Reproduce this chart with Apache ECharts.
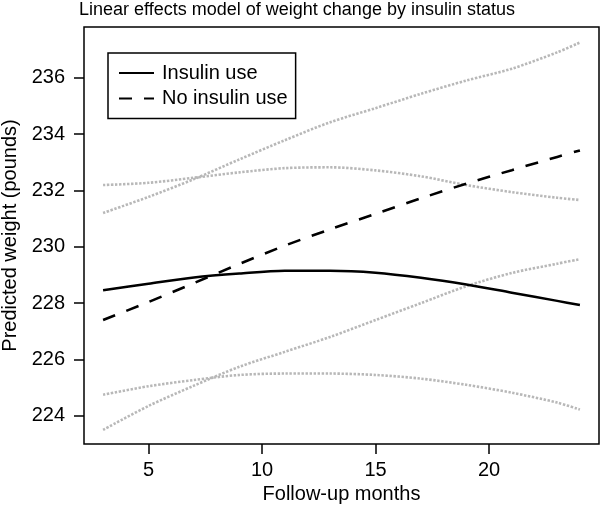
<!DOCTYPE html>
<html>
<head>
<meta charset="utf-8">
<title>Linear effects model of weight change by insulin status</title>
<script src="https://cdn.jsdelivr.net/npm/echarts@6/dist/echarts.min.js"></script>
<style>
  html, body { margin: 0; padding: 0; background: #fff; }
  #chart { width: 602px; height: 508px; }
</style>
</head>
<body>
<div id="chart"></div>
<script>
// values (months, predicted weight in pounds)
const months = [3, 5, 7, 9, 11, 13, 15, 17, 19, 21, 23, 24]
const insulinFit = [228.46, 228.69, 228.91, 229.05, 229.15, 229.15, 229.08, 228.9, 228.66, 228.37, 228.08, 227.93]
const insulinUpper = [232.19, 232.27, 232.45, 232.64, 232.79, 232.82, 232.71, 232.5, 232.19, 231.94, 231.74, 231.66]
const insulinLower = [224.75, 225.05, 225.27, 225.45, 225.5, 225.5, 225.45, 225.32, 225.1, 224.82, 224.47, 224.22]
const noInsulinFit = [227.4, 228.04, 228.71, 229.39, 230.04, 230.62, 231.17, 231.72, 232.24, 232.72, 233.19, 233.42]
const noInsulinUpper = [231.2, 231.77, 232.4, 233.1, 233.78, 234.42, 234.92, 235.43, 235.9, 236.32, 236.9, 237.25]
const noInsulinLower = [223.5, 224.35, 225.07, 225.74, 226.27, 226.8, 227.4, 228.0, 228.6, 229.07, 229.4, 229.56]

const xTicks = [5, 10, 15, 20]
const yTicks = [224, 226, 228, 230, 232, 234, 236]

const font = '"Liberation Sans", Arial, Helvetica, sans-serif'

function pairs (ys) {
  return months.map((m, i) => [m, ys[i]])
}

function band (name, ys) {
  return {
    name: name,
    type: 'line',
    symbol: 'none',
    smooth: 0.3,
    silent: true,
    lineStyle: { color: '#b8b8b8', width: 2.6, type: [2.4, 1.6], cap: 'butt' },
    data: pairs(ys)
  }
}

const chartInstance = echarts.init(document.getElementById('chart'))

const option = {
  backgroundColor: '#fff',
  animation: false,
  textStyle: { fontFamily: font, color: '#000' },
  title: {
    text: 'Linear effects model of weight change by insulin status',
    left: 297,
    textAlign: 'center',
    top: 1,
    padding: 0,
    textStyle: { fontFamily: font, fontSize: 18, fontWeight: 'normal', fontStyle: 'normal', color: '#000' }
  },
  legend: {
    data: ['Insulin use', 'No insulin use'],
    orient: 'vertical',
    left: 108,
    top: 53,
    padding: [10, 8, 10, 10],
    itemGap: 5.5,
    itemWidth: 35,
    itemHeight: 20,
    borderColor: '#000',
    borderWidth: 1.5,
    borderRadius: 0,
    selectedMode: false,
    itemStyle: { opacity: 0 },
    textStyle: { fontFamily: font, fontSize: 20, lineHeight: 20, color: '#000', padding: [0, 0, 0, 3] }
  },
  grid: {
    left: 84,
    top: 27,
    right: 3,
    bottom: 64,
    containLabel: false,
    outerBoundsMode: 'none',
    show: true,
    borderColor: '#000',
    borderWidth: 1.5,
    backgroundColor: 'transparent'
  },
  xAxis: {
    type: 'value',
    min: 2.16,
    max: 24.84,
    name: 'Follow-up months',
    nameLocation: 'middle',
    nameGap: 40,
    nameTextStyle: { fontFamily: font, fontSize: 20, color: '#000' },
    axisLine: { show: false },
    splitLine: { show: false },
    axisTick: { show: true, length: 10, customValues: xTicks, lineStyle: { color: '#000', width: 1.5 } },
    axisLabel: { customValues: xTicks, margin: 16, fontFamily: font, fontSize: 20, color: '#000' }
  },
  yAxis: {
    type: 'value',
    min: 223.0,
    max: 237.8,
    name: 'Predicted weight (pounds)',
    nameLocation: 'middle',
    nameGap: 63,
    nameTextStyle: { fontFamily: font, fontSize: 20, color: '#000' },
    axisLine: { show: false },
    splitLine: { show: false },
    axisTick: { show: true, length: 10, customValues: yTicks, lineStyle: { color: '#000', width: 1.5 } },
    axisLabel: { customValues: yTicks, margin: 19, fontFamily: font, fontSize: 20, color: '#000' }
  },
  series: [
    band('Insulin use upper', insulinUpper),
    band('Insulin use lower', insulinLower),
    band('No insulin use upper', noInsulinUpper),
    band('No insulin use lower', noInsulinLower),
    {
      name: 'Insulin use',
      type: 'line',
      symbol: 'none',
      smooth: 0.3,
      lineStyle: { color: '#000', width: 2.5 },
      itemStyle: { color: '#000' },
      data: pairs(insulinFit)
    },
    {
      name: 'No insulin use',
      type: 'line',
      symbol: 'none',
      smooth: 0.3,
      lineStyle: { color: '#000', width: 2.6, type: [13, 12], cap: 'butt' },
      itemStyle: { color: '#000' },
      data: pairs(noInsulinFit)
    }
  ]
}

chartInstance.setOption(option)
</script>
</body>
</html>
